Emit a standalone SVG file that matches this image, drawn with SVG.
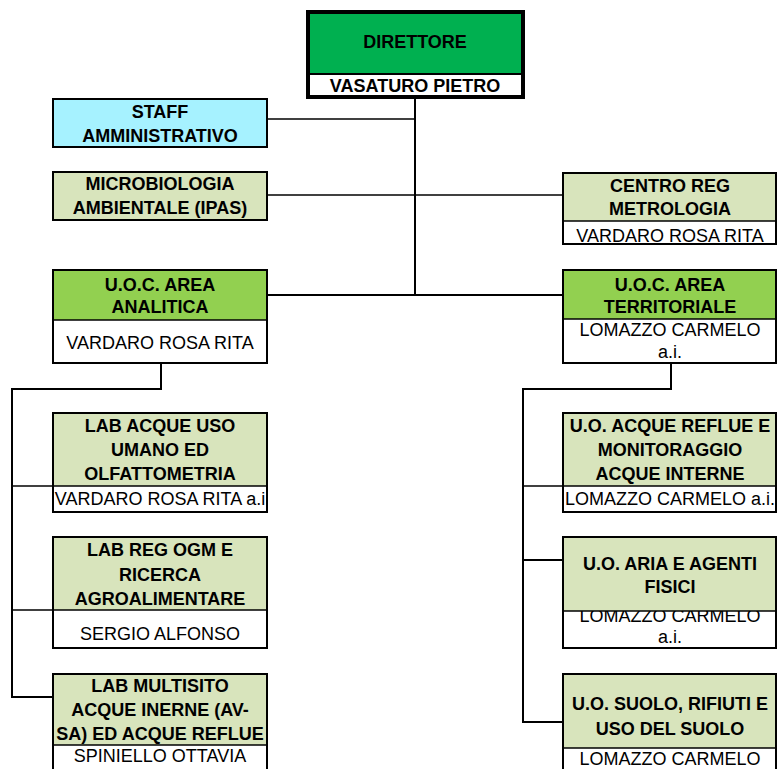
<svg xmlns="http://www.w3.org/2000/svg" width="778" height="769" viewBox="0 0 778 769">
<style>
.bx{fill:none;stroke:#000;stroke-width:2}
.dv{stroke:#000;stroke-width:1.5}
.w{fill:#fff}
.g1{fill:#00B050}
.g2{fill:#92D050}
.g3{fill:#D8E4BC}
.cy{fill:#A6F2FF}
.t{font-family:"Liberation Sans",Arial,sans-serif;font-weight:bold;font-size:18px;text-anchor:middle;fill:#000}
.r{font-family:"Liberation Sans",Arial,sans-serif;font-size:18px;text-anchor:middle;fill:#000}
.c1{stroke:#000;stroke-width:1.5;fill:none}
.c2{stroke:#000;stroke-width:2;fill:none}
</style>
<rect width="778" height="769" fill="#fff"/>
<g id="connectors">
<path class="c2" d="M415 97V295"/>
<path class="c1" d="M268 119H415"/>
<path class="c1" d="M268 195H563"/>
<path class="c2" d="M268 295H563"/>
<path class="c2" d="M161 363V389H12V697H52"/>
<path class="c1" d="M12 486H52"/>
<path class="c1" d="M12 610H52"/>
<path class="c2" d="M671 363V389H523V722H563"/>
<path class="c1" d="M523 486H563"/>
<path class="c2" d="M523 560H563"/>
</g>
<g id="direttore">
<rect x="308" y="12" width="215" height="85" class="w"/>
<rect x="308" y="12" width="215" height="62" class="g1"/>
<line x1="308" y1="74" x2="523" y2="74" stroke="#000" stroke-width="2"/>
<rect x="308" y="12" width="215" height="85" fill="none" stroke="#000" stroke-width="4"/>
<text class="t" x="415" y="48">DIRETTORE</text>
<text class="t" x="415" y="92">VASATURO PIETRO</text>
</g>
<g id="staff">
<rect x="53" y="99" width="214" height="48" class="cy"/>
<rect x="53" y="99" width="214" height="48" class="bx"/>
<text class="t" x="160" y="118">STAFF</text>
<text class="t" x="160" y="142">AMMINISTRATIVO</text>
</g>
<g id="microbiologia">
<rect x="53" y="172" width="214" height="48" class="g3"/>
<rect x="53" y="172" width="214" height="48" class="bx"/>
<text class="t" x="160" y="190">MICROBIOLOGIA</text>
<text class="t" x="160" y="214">AMBIENTALE (IPAS)</text>
</g>
<g id="centro-metrologia">
<rect x="563" y="173" width="213" height="71" class="w"/>
<rect x="563" y="173" width="213" height="48" class="g3"/>
<line x1="563" y1="221" x2="776" y2="221" class="dv"/>
<text class="r" x="670" y="242">VARDARO ROSA RITA</text>
<rect x="563" y="173" width="213" height="71" class="bx"/>
<text class="t" x="670" y="192">CENTRO REG</text>
<text class="t" x="670" y="215">METROLOGIA</text>
</g>
<g id="uoc-analitica">
<rect x="53" y="270" width="214" height="93" class="w"/>
<rect x="53" y="270" width="214" height="50" class="g2"/>
<line x1="53" y1="320" x2="267" y2="320" class="dv"/>
<rect x="53" y="270" width="214" height="93" class="bx"/>
<text class="t" x="160" y="291">U.O.C. AREA</text>
<text class="t" x="160" y="313">ANALITICA</text>
<text class="r" x="160" y="349">VARDARO ROSA RITA</text>
</g>
<g id="uoc-territoriale">
<rect x="563" y="270" width="213" height="93" class="w"/>
<rect x="563" y="270" width="213" height="49" class="g2"/>
<line x1="563" y1="319" x2="776" y2="319" class="dv"/>
<rect x="563" y="270" width="213" height="93" class="bx"/>
<text class="t" x="670" y="291">U.O.C. AREA</text>
<text class="t" x="670" y="313">TERRITORIALE</text>
<text class="r" x="670" y="336">LOMAZZO CARMELO</text>
<text class="r" x="670" y="358">a.i.</text>
</g>
<g id="lab-acque-uso-umano">
<rect x="53" y="413" width="214" height="99" class="w"/>
<rect x="53" y="413" width="214" height="73" class="g3"/>
<line x1="53" y1="486" x2="267" y2="486" class="dv"/>
<text class="r" x="160" y="505">VARDARO ROSA RITA a.i</text>
<rect x="53" y="413" width="214" height="99" class="bx"/>
<text class="t" x="160" y="432">LAB ACQUE USO</text>
<text class="t" x="160" y="456">UMANO ED</text>
<text class="t" x="160" y="480">OLFATTOMETRIA</text>
</g>
<g id="uo-acque-reflue">
<rect x="563" y="413" width="213" height="99" class="w"/>
<rect x="563" y="413" width="213" height="73" class="g3"/>
<line x1="563" y1="486" x2="776" y2="486" class="dv"/>
<text class="r" x="670" y="505">LOMAZZO CARMELO a.i.</text>
<rect x="563" y="413" width="213" height="99" class="bx"/>
<text class="t" x="670" y="432">U.O. ACQUE REFLUE E</text>
<text class="t" x="670" y="456">MONITORAGGIO</text>
<text class="t" x="670" y="480">ACQUE INTERNE</text>
</g>
<g id="lab-ogm">
<rect x="53" y="537" width="214" height="111" class="w"/>
<rect x="53" y="537" width="214" height="73" class="g3"/>
<line x1="53" y1="610" x2="267" y2="610" class="dv"/>
<rect x="53" y="537" width="214" height="111" class="bx"/>
<text class="t" x="160" y="556">LAB REG OGM E</text>
<text class="t" x="160" y="581">RICERCA</text>
<text class="t" x="160" y="605">AGROALIMENTARE</text>
<text class="r" x="160" y="640">SERGIO ALFONSO</text>
</g>
<g id="uo-aria">
<rect x="563" y="537" width="213" height="111" class="w"/>
<text class="r" x="670" y="622">LOMAZZO CARMELO</text>
<text class="r" x="670" y="643">a.i.</text>
<rect x="563" y="537" width="213" height="74" class="g3"/>
<line x1="563" y1="611" x2="776" y2="611" class="dv"/>
<rect x="563" y="537" width="213" height="111" class="bx"/>
<text class="t" x="670" y="570">U.O. ARIA E AGENTI</text>
<text class="t" x="670" y="593">FISICI</text>
</g>
<g id="lab-multisito">
<rect x="53" y="674" width="214" height="100" class="w"/>
<rect x="53" y="674" width="214" height="71" class="g3"/>
<line x1="53" y1="745" x2="267" y2="745" class="dv"/>
<rect x="53" y="674" width="214" height="100" class="bx"/>
<text class="t" x="160" y="692">LAB MULTISITO</text>
<text class="t" x="160" y="716">ACQUE INERNE (AV-</text>
<text class="t" x="160" y="740">SA) ED ACQUE REFLUE</text>
<text class="r" x="160" y="762">SPINIELLO OTTAVIA</text>
</g>
<g id="uo-suolo">
<rect x="563" y="674" width="213" height="100" class="w"/>
<rect x="563" y="674" width="213" height="74" class="g3"/>
<line x1="563" y1="748" x2="776" y2="748" class="dv"/>
<rect x="563" y="674" width="213" height="100" class="bx"/>
<text class="t" x="670" y="710">U.O. SUOLO, RIFIUTI E</text>
<text class="t" x="670" y="735">USO DEL SUOLO</text>
<text class="r" x="670" y="765">LOMAZZO CARMELO</text>
</g>
</svg>
